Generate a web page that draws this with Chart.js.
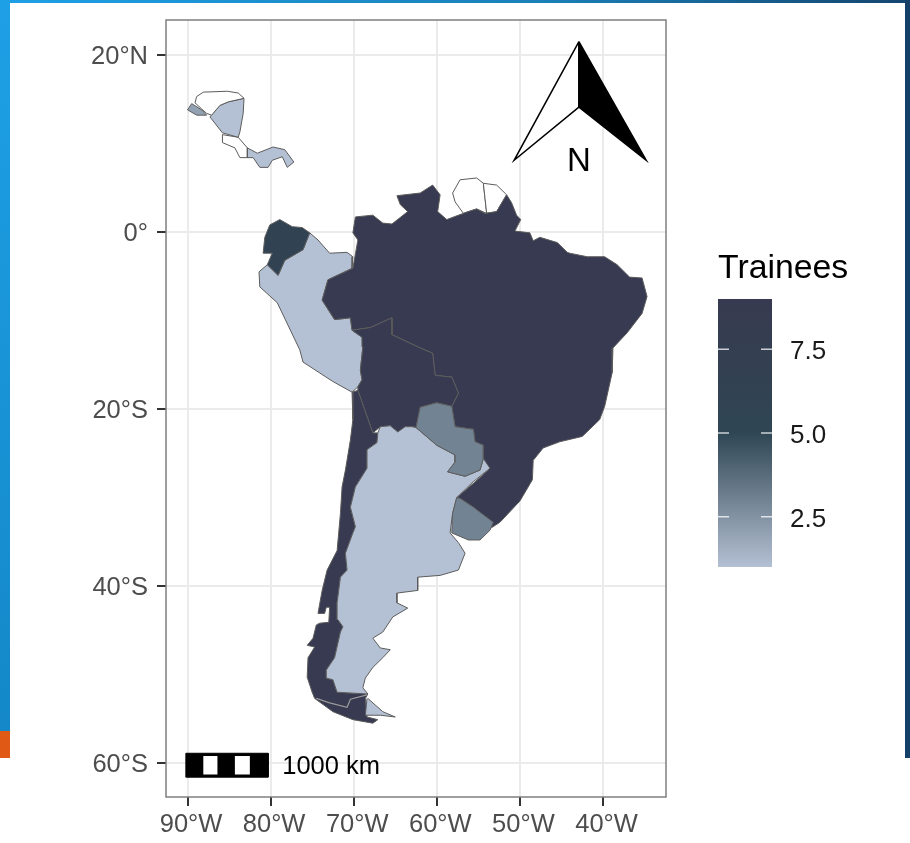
<!DOCTYPE html>
<html lang="en">
<head>
    <meta charset="UTF-8">
    <title>Trainees map</title>
    <script src="https://cdn.jsdelivr.net/npm/chart.js"></script>
    <style>
        body { margin: 0; background: #fff; font-family: "Liberation Sans", Arial, sans-serif; }
        #page { position: relative; width: 910px; height: 843px; overflow: hidden; }
        #chart { position: absolute; left: 0; top: 0; filter: blur(0.5px); }
        .band { position: absolute; }
        #top-band { left: 0; top: 0; width: 910px; height: 3px; background: linear-gradient(90deg, #1ea0e6, #1a80b8 60%, #14456f); }
        #left-band { left: 0; top: 0; width: 10px; height: 731px; background: linear-gradient(180deg, #1ea0e6, #1488c8); }
        #left-orange { left: 0; top: 731px; width: 10px; height: 27px; background: #e05a16; }
        #right-band { left: 905px; top: 0; width: 5px; height: 758px; background: #14406a; }
    </style>
</head>
<body>
<div id="page">
    <div class="band" id="top-band"></div>
    <div class="band" id="left-band"></div>
    <div class="band" id="left-orange"></div>
    <div class="band" id="right-band"></div>
    <canvas id="chart" width="910" height="843"></canvas>
</div>
<script>
    const xTicks = [-90, -80, -70, -60, -50, -40];
    const xTickLabels = ['90°W', '80°W', '70°W', '60°W', '50°W', '40°W'];
    const yTicks = [20, 0, -20, -40, -60];
    const yTickLabels = ['20°N', '0°', '20°S', '40°S', '60°S'];

    const legendTicks = [7.5, 5, 2.5];
    const legendLabels = ['7.5', '5.0', '2.5'];
    const legendRange = [1, 9];

    // trainees per country, null = no data
    const brazilValue = 9, boliviaValue = 9, chileValue = 9;
    const ecuadorValue = 6, paraguayValue = 3, uruguayValue = 3, salvadorValue = 2;
    const argentinaValue = 1, peruValue = 1, nicaraguaValue = 1, panamaValue = 1;

    // outlines as [lon, lat]
    const brazil = [[-70.1,-0.1],[-69.8,1.7],[-67.7,1.9],[-66.5,1.0],[-65.4,0.9],[-63.5,2.3],[-64.4,3.1],[-64.8,4.1],[-62.0,4.4],[-60.5,5.3],[-59.6,4.2],[-59.9,2.3],[-58.8,1.4],[-57.4,1.9],[-56.2,2.3],[-55.2,2.6],[-54.2,2.1],[-52.8,2.3],[-51.6,4.2],[-51.0,3.3],[-50.4,1.9],[-49.9,1.4],[-50.6,0.1],[-48.8,-0.1],[-48.4,-1.0],[-47.6,-0.6],[-45.5,-1.2],[-44.3,-2.3],[-44.0,-2.4],[-41.9,-2.8],[-39.8,-2.8],[-38.3,-3.7],[-36.8,-5.1],[-35.3,-5.2],[-34.7,-7.3],[-35.3,-9.2],[-37.1,-11.4],[-38.8,-13.1],[-38.9,-15.9],[-39.8,-19.7],[-40.4,-21.2],[-42.5,-23.1],[-45.2,-23.7],[-47.2,-24.4],[-48.4,-25.8],[-48.5,-28.0],[-50.0,-30.4],[-52.4,-32.8],[-53.4,-33.4],[-53.4,-32.8],[-55.6,-31.1],[-57.2,-30.1],[-57.6,-30.0],[-55.6,-28.4],[-53.8,-26.9],[-54.4,-25.6],[-54.4,-24.1],[-55.4,-23.7],[-55.6,-22.3],[-57.8,-22.0],[-58.2,-19.7],[-57.4,-18.2],[-58.2,-16.4],[-60.2,-16.2],[-60.5,-13.7],[-62.0,-13.1],[-65.4,-11.6],[-65.4,-9.7],[-68.0,-10.8],[-70.2,-11.1],[-70.4,-9.7],[-72.3,-9.9],[-73.8,-7.7],[-73.1,-5.4],[-70.1,-4.1],[-69.5,-0.9]];
    const bolivia = [[-70.2,-11.1],[-68.0,-10.8],[-65.4,-9.7],[-65.4,-11.6],[-62.0,-13.1],[-60.5,-13.7],[-60.2,-16.2],[-58.2,-16.4],[-57.4,-18.2],[-58.2,-19.7],[-60.0,-19.3],[-62.0,-19.8],[-62.5,-22.1],[-63.0,-22.0],[-63.8,-22.0],[-64.7,-22.6],[-65.6,-21.9],[-66.8,-22.0],[-67.7,-22.7],[-69.5,-17.9],[-69.5,-17.5],[-69.0,-16.7],[-69.2,-15.6],[-68.9,-13.0],[-69.0,-11.9]];
    const chileArgentinaBorder = [[-68.3,-52.2],[-72.0,-52.0],[-72.5,-50.6],[-73.3,-50.4],[-73.3,-49.5],[-72.3,-48.1],[-71.6,-45.2],[-71.3,-44.6],[-71.9,-43.8],[-72.0,-41.9],[-71.6,-39.0],[-70.8,-38.2],[-71.0,-36.3],[-70.1,-34.0],[-69.8,-33.3],[-70.4,-31.1],[-69.8,-28.8],[-68.4,-26.7],[-68.4,-24.6],[-67.2,-23.8],[-67.1,-22.7]];
    const chile = [[-70.2,-18.1],[-70.1,-21.2],[-70.4,-23.5],[-71.0,-26.9],[-71.4,-28.8],[-71.6,-31.8],[-72.0,-36.0],[-73.2,-38.2],[-73.8,-40.5],[-74.3,-43.1],[-73.5,-43.1],[-73.3,-42.4],[-72.9,-42.4],[-73.0,-44.1],[-74.1,-44.2],[-74.5,-44.4],[-74.9,-45.9],[-75.6,-46.7],[-74.7,-46.9],[-75.5,-48.1],[-75.6,-50.3],[-75.0,-52.0],[-74.7,-52.7],[-72.5,-54.2],[-70.1,-55.1],[-67.7,-55.5],[-67.1,-55.1],[-68.4,-54.8],[-68.6,-52.7],...chileArgentinaBorder,[-67.7,-22.7],[-69.5,-17.9]];
    const argentina = [[-67.1,-22.7],[-66.8,-22.0],[-65.6,-21.9],[-64.7,-22.6],[-63.8,-22.0],[-63.0,-22.0],[-62.5,-22.1],[-60.0,-24.1],[-57.8,-25.2],[-57.8,-26.0],[-58.7,-27.1],[-56.6,-27.6],[-54.8,-26.9],[-54.4,-25.6],[-53.6,-26.7],[-55.6,-28.2],[-57.6,-30.0],[-58.1,-31.8],[-58.4,-34.0],[-57.4,-35.1],[-56.6,-36.3],[-57.4,-38.2],[-59.6,-38.8],[-62.3,-39.0],[-62.3,-40.5],[-64.8,-40.8],[-64.8,-41.9],[-63.5,-42.5],[-65.3,-43.5],[-66.5,-45.2],[-67.7,-45.9],[-66.8,-47.0],[-65.6,-47.2],[-66.5,-48.1],[-67.7,-49.2],[-68.6,-50.4],[-68.9,-51.5],...chileArgentinaBorder];
    const fuegoArgentina = [[-68.4,-52.7],[-68.6,-54.6],[-66.8,-54.6],[-65.0,-54.8],[-66.5,-54.2],[-68.3,-52.7]];
    const uruguay = [[-57.2,-30.1],[-55.6,-31.1],[-53.2,-32.8],[-53.6,-33.7],[-54.8,-34.8],[-56.2,-34.8],[-58.2,-34.0],[-58.1,-31.8],[-57.6,-30.0]];
    const paraguay = [[-62.5,-22.1],[-62.0,-19.8],[-60.0,-19.3],[-58.2,-19.7],[-57.8,-22.0],[-55.6,-22.3],[-55.4,-23.7],[-54.4,-24.1],[-54.4,-25.6],[-54.8,-26.9],[-56.6,-27.6],[-58.7,-27.1],[-57.8,-26.0],[-57.8,-25.2],[-60.0,-24.1]];
    const peru = [[-75.3,-0.1],[-74.3,-0.9],[-72.9,-2.4],[-70.8,-2.3],[-70.1,-2.8],[-70.2,-4.1],[-73.1,-5.4],[-73.8,-7.7],[-72.3,-9.9],[-70.4,-9.7],[-70.2,-11.1],[-69.0,-11.9],[-68.9,-13.0],[-69.2,-15.6],[-69.0,-16.7],[-69.5,-17.5],[-70.2,-18.1],[-72.5,-16.9],[-76.1,-14.7],[-76.5,-13.3],[-79.2,-8.0],[-81.3,-6.2],[-81.4,-4.5],[-80.4,-3.7],[-79.1,-4.9],[-78.3,-3.2],[-76.1,-2.0]];
    const ecuador = [[-78.9,1.4],[-77.4,0.6],[-76.2,0.5],[-75.3,-0.1],[-76.1,-2.0],[-78.3,-3.2],[-79.1,-4.9],[-80.4,-3.7],[-79.8,-2.4],[-80.9,-2.4],[-80.7,-0.6],[-80.1,0.8]];
    const salvador = [[-90.0,13.8],[-89.5,14.5],[-88.3,13.8],[-87.7,13.2],[-88.9,13.2]];
    const honduras = [[-89.1,14.6],[-88.9,15.3],[-88.1,15.8],[-85.2,15.9],[-83.9,15.7],[-83.2,15.1],[-85.1,14.7],[-86.1,14.3],[-87.1,13.2],[-87.7,13.4],[-88.3,13.9]];
    const nicaragua = [[-87.3,13.0],[-86.1,14.3],[-85.1,14.7],[-83.2,15.1],[-83.3,13.4],[-83.7,11.3],[-83.9,10.7],[-85.8,11.2]];
    const costaRica = [[-85.8,11.0],[-83.9,10.7],[-82.8,9.5],[-82.8,8.4],[-83.7,8.4],[-84.3,9.5],[-85.8,10.1]];
    const panama = [[-82.8,9.5],[-81.6,8.9],[-79.7,9.6],[-78.3,9.3],[-77.2,7.9],[-78.0,7.3],[-78.6,8.5],[-79.8,8.1],[-80.3,7.3],[-81.3,7.3],[-82.1,8.4],[-82.8,8.4]];
    const frenchGuiana = [[-54.4,5.5],[-52.8,5.3],[-51.6,4.2],[-52.8,2.3],[-54.0,2.1],[-54.2,3.8]];
    const suriname = [[-58.1,4.4],[-57.2,5.9],[-55.2,6.1],[-54.4,5.5],[-54.2,3.8],[-54.0,2.1],[-55.2,2.6],[-56.2,2.3],[-56.8,2.1],[-57.8,3.4]];
    const magellanStrait = [[-74.5,-52.7],[-72.9,-53.2],[-70.8,-53.7],[-70.4,-52.8],[-68.4,-52.3]];

    const arrowLeft = [[-42.9,21.5],[-50.7,8.1],[-42.9,14.1]];
    const arrowRight = [[-42.9,21.5],[-34.8,8.1],[-42.9,14.1]];
    const scaleBarBlack = [[-90.2,-58.9],[-80.3,-58.9],[-80.3,-61.6],[-90.2,-61.6]];
    const scaleBarWhite1 = [[-88.1,-59.2],[-86.4,-59.2],[-86.4,-61.3],[-88.1,-61.3]];
    const scaleBarWhite2 = [[-84.3,-59.2],[-82.5,-59.2],[-82.5,-61.3],[-84.3,-61.3]];

    const colorStopValues = [1, 5, 9];
    const colorStopColors = ['#b4c0d3', '#2f4654', '#373a50'];

    function hexToRgb(hex) {
        return [1, 3, 5].map(i => parseInt(hex.substr(i, 2), 16));
    }

    function valueColor(v) {
        let i = v <= colorStopValues[1] ? 0 : 1;
        const t = (v - colorStopValues[i]) / (colorStopValues[i + 1] - colorStopValues[i]);
        const a = hexToRgb(colorStopColors[i]), b = hexToRgb(colorStopColors[i + 1]);
        const c = a.map((p, k) => Math.round(p + (b[k] - p) * t));
        return 'rgb(' + c.join(',') + ')';
    }

    function shape(data, fillColor, lineColor, lineWidth) {
        return {
            data: data,
            showLine: true,
            fill: 'shape',
            backgroundColor: fillColor,
            borderColor: lineColor,
            borderWidth: lineWidth,
            pointRadius: 0,
            tension: 0
        };
    }

    function closed(points) {
        return points.concat([points[0]]);
    }

    function country(points, fillColor) {
        return shape(closed(points), fillColor, '#5c5c5c', 1);
    }

    // first dataset is drawn on top
    const datasets = [
        shape(closed(scaleBarWhite1), '#ffffff', '#ffffff', 0),
        shape(closed(scaleBarWhite2), '#ffffff', '#ffffff', 0),
        shape(closed(scaleBarBlack), '#000000', '#000000', 1),
        shape(closed(arrowRight), '#000000', '#000000', 1.5),
        shape(closed(arrowLeft), '#ffffff', '#000000', 1.5),
        { data: magellanStrait, showLine: true, fill: false, borderColor: '#9a9a9a', borderWidth: 1.2, pointRadius: 0 },
        country(uruguay, valueColor(uruguayValue)),
        country(paraguay, valueColor(paraguayValue)),
        country(fuegoArgentina, valueColor(argentinaValue)),
        country(argentina, valueColor(argentinaValue)),
        country(chile, valueColor(chileValue)),
        country(bolivia, valueColor(boliviaValue)),
        country(brazil, valueColor(brazilValue)),
        country(ecuador, valueColor(ecuadorValue)),
        country(peru, valueColor(peruValue)),
        country(frenchGuiana, '#ffffff'),
        country(suriname, '#ffffff'),
        country(salvador, valueColor(salvadorValue)),
        country(honduras, '#ffffff'),
        country(nicaragua, valueColor(nicaraguaValue)),
        country(costaRica, '#ffffff'),
        country(panama, valueColor(panamaValue))
    ];

    const mapDecorations = {
        id: 'mapDecorations',
        afterDatasetsDraw(chart) {
            const ctx = chart.ctx, area = chart.chartArea;
            const x = chart.scales.x, y = chart.scales.y;
            ctx.save();
            ctx.strokeStyle = '#7f7f7f';
            ctx.lineWidth = 1.5;
            ctx.strokeRect(area.left, area.top, area.right - area.left, area.bottom - area.top);

            ctx.fillStyle = '#000';
            ctx.textBaseline = 'middle';
            ctx.textAlign = 'center';
            ctx.font = '33px "Liberation Sans"';
            ctx.fillText('N', x.getPixelForValue(-42.9), y.getPixelForValue(8.1) + 2);
            ctx.textAlign = 'left';
            ctx.font = '25.5px "Liberation Sans"';
            ctx.fillText('1000 km', x.getPixelForValue(-78.6), y.getPixelForValue(-60.3) + 1);

            // colour bar legend
            const barLeft = 718, barRight = 772, barTop = 299, barBottom = 567;
            const span = legendRange[1] - legendRange[0];
            const grad = ctx.createLinearGradient(0, barBottom, 0, barTop);
            colorStopValues.forEach((v, i) => grad.addColorStop((v - legendRange[0]) / span, colorStopColors[i]));
            ctx.fillStyle = grad;
            ctx.fillRect(barLeft, barTop, barRight - barLeft, barBottom - barTop);

            ctx.fillStyle = '#000';
            ctx.font = '33.8px "Liberation Sans"';
            ctx.textBaseline = 'alphabetic';
            ctx.fillText('Trainees', barLeft, 278);

            ctx.font = '26px "Liberation Sans"';
            ctx.textBaseline = 'middle';
            legendTicks.forEach((v, i) => {
                const py = barBottom - (v - legendRange[0]) / span * (barBottom - barTop);
                ctx.strokeStyle = 'rgba(255,255,255,0.75)';
                ctx.lineWidth = 1.5;
                ctx.beginPath();
                ctx.moveTo(barLeft, py);
                ctx.lineTo(barLeft + 11, py);
                ctx.moveTo(barRight - 11, py);
                ctx.lineTo(barRight, py);
                ctx.stroke();
                ctx.fillStyle = '#1a1a1a';
                ctx.fillText(legendLabels[i], 790, py + 3);
            });
            ctx.restore();
        }
    };

    new Chart(document.getElementById('chart').getContext('2d'), {
        type: 'scatter',
        data: { datasets: datasets },
        plugins: [mapDecorations],
        options: {
            responsive: false,
            animation: false,
            layout: { padding: { top: 20, right: 244, left: 0, bottom: 0 } },
            plugins: { legend: { display: false }, tooltip: { enabled: false } },
            scales: {
                x: {
                    type: 'linear',
                    min: -92.59,
                    max: -32.42,
                    afterBuildTicks: s => { s.ticks = xTicks.map(v => ({ value: v })); },
                    afterFit: s => { s.height = 46; s.paddingLeft = 0; s.paddingRight = 0; },
                    grid: { color: '#ebebeb', lineWidth: 2, tickColor: '#333333', tickWidth: 2, tickLength: 9 },
                    border: { display: false },
                    ticks: {
                        autoSkip: false,
                        maxRotation: 0,
                        padding: 4,
                        labelOffset: 3.5,
                        color: '#4d4d4d',
                        font: { family: 'Liberation Sans', size: 25.5 },
                        callback: v => xTickLabels[xTicks.indexOf(v)]
                    }
                },
                y: {
                    type: 'linear',
                    min: -63.84,
                    max: 23.95,
                    afterBuildTicks: s => { s.ticks = yTicks.map(v => ({ value: v })); },
                    afterFit: s => { s.width = 166; s.paddingTop = 0; s.paddingBottom = 0; },
                    grid: { color: '#ebebeb', lineWidth: 2, tickColor: '#333333', tickWidth: 2, tickLength: 9 },
                    border: { display: false },
                    ticks: {
                        autoSkip: false,
                        padding: 9,
                        labelOffset: 2,
                        color: '#4d4d4d',
                        font: { family: 'Liberation Sans', size: 25.5 },
                        callback: v => yTickLabels[yTicks.indexOf(v)]
                    }
                }
            }
        }
    });
</script>
</body>
</html>
